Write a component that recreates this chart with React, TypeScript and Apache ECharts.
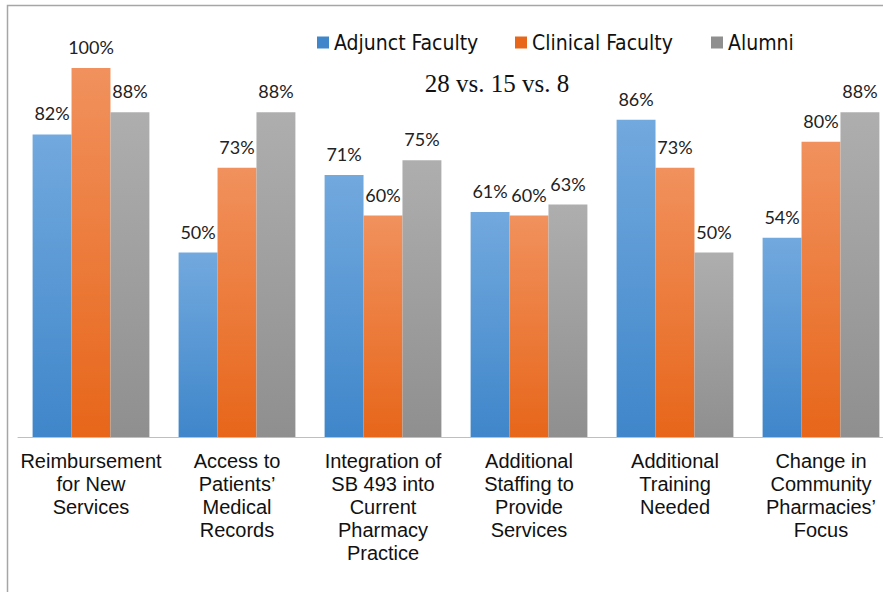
import React, { useEffect, useRef } from "react";
import * as echarts from "echarts";

const categories = [
  "Reimbursement\nfor New\nServices",
  "Access to\nPatients’\nMedical\nRecords",
  "Integration of\nSB 493 into\nCurrent\nPharmacy\nPractice",
  "Additional\nStaffing to\nProvide\nServices",
  "Additional\nTraining\nNeeded",
  "Change in\nCommunity\nPharmacies’\nFocus",
];
const seriesNames = ["Adjunct Faculty", "Clinical Faculty", "Alumni"];
const adjunct = [82, 50, 71, 61, 86, 54];
const clinical = [100, 73, 60, 60, 73, 80];
const alumni = [88, 88, 75, 63, 50, 88];
const subtitle = "28 vs. 15 vs. 8";

const colorStops = [
  ["#72A9DE", "#3F86CA"],
  ["#F1915D", "#E7661A"],
  ["#AEAEAE", "#8F8F8F"],
];
const legendLefts = [317, 515, 711];

export default function App() {
  const ref = useRef<HTMLDivElement>(null);
  useEffect(() => {
    if (!ref.current) return;
    const chart = echarts.init(ref.current, null, { renderer: "svg" });
    const data = [adjunct, clinical, alumni];
    const series = seriesNames.map((name, i) => ({
      name,
      type: "bar",
      data: data[i],
      barGap: "0%",
      barCategoryGap: "20%",
      itemStyle: {
        color: new echarts.graphic.LinearGradient(0, 0, 0, 1, [
          { offset: 0, color: colorStops[i][0] },
          { offset: 1, color: colorStops[i][1] },
        ]),
      },
      label: {
        show: true,
        position: "top",
        distance: 12,
        formatter: "{c}%",
        fontFamily: "Lato, 'Open Sans', sans-serif",
        fontSize: 18,
        color: "#222",
      },
    }));
    chart.setOption({
      animation: false,
      grid: { left: 18, width: 876, top: 68, bottom: 155, containLabel: false },
      legend: seriesNames.map((name, i) => ({
        data: [
          {
            name,
            itemStyle: { color: colorStops[i][1] },
          },
        ],
        left: legendLefts[i],
        top: 32,
        padding: 0,
        itemWidth: 12,
        itemHeight: 12,
        icon: "rect",
        textStyle: {
          fontFamily: "'Liberation Sans Narrow', 'DejaVu Sans Condensed', 'Roboto Condensed', sans-serif",
          fontSize: 21,
          color: "#111",
        },
      })),
      xAxis: {
        type: "category",
        data: categories,
        axisLine: { show: true, lineStyle: { color: "#BFBFBF", width: 1 } },
        axisTick: { show: false },
        axisLabel: {
          interval: 0,
          margin: 12,
          fontFamily: "'Liberation Sans', Arial, sans-serif",
          fontSize: 20,
          lineHeight: 23,
          color: "#111",
          align: "center",
        },
      },
      yAxis: {
        type: "value",
        min: 0,
        max: 100,
        show: false,
        splitLine: { show: false },
      },
      graphic: [
        {
          type: "rect",
          shape: { x: 7.5, y: 5.5, width: 1000, height: 1000 },
          style: { fill: "none", stroke: "#A6A6A6", lineWidth: 1.5 },
          silent: true,
        },
        {
          type: "text",
          x: 497,
          y: 83,
          style: {
            text: subtitle,
            fontFamily: "'Liberation Serif', 'Times New Roman', serif",
            fontSize: 25,
            fill: "#111",
            align: "center",
            verticalAlign: "middle",
          },
        },
      ],
      series,
    });
    return () => chart.dispose();
  }, []);
  return (
    <div
      style={{ position: "absolute", left: 0, top: 0, width: 883, height: 592, overflow: "hidden", background: "#fff" }}
    >
      <div ref={ref} style={{ width: 910, height: 592 }} />
    </div>
  );
}
